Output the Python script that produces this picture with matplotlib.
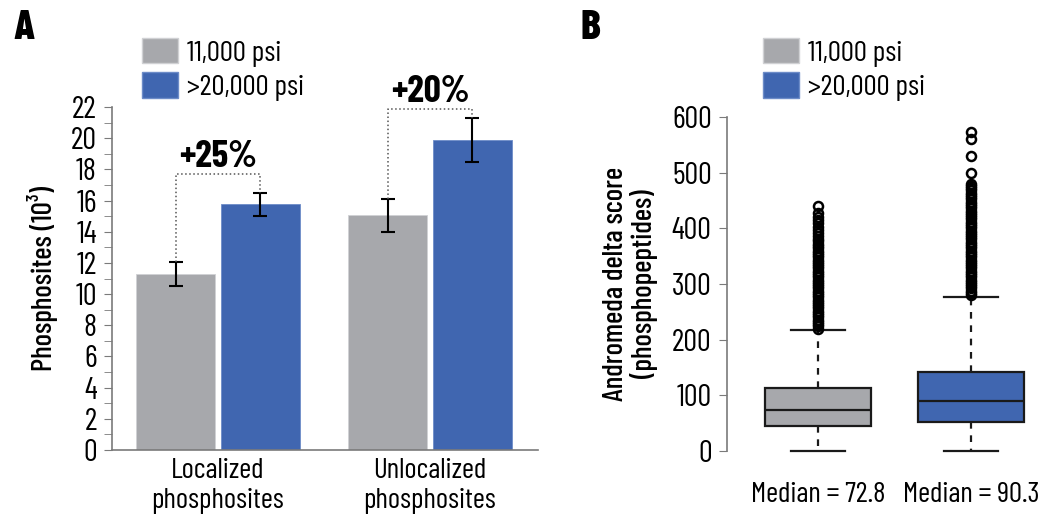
import numpy as np
import matplotlib
matplotlib.use('Agg')
import matplotlib.pyplot as plt
from matplotlib.patches import Patch

plt.rcParams['font.family'] = ['Barlow Condensed', 'Roboto Condensed', 'DejaVu Sans']
plt.rcParams['font.weight'] = 400
title_font = ['Barlow Condensed', 'Roboto Condensed', 'DejaVu Sans']

# Panel A data (10^3 phosphosites)
groups = ['Localized\nphosphosites', 'Unlocalized\nphosphosites']
low_psi = [11.3, 15.05]
low_err = [0.75, 1.05]
high_psi = [15.75, 19.9]
high_err = [0.75, 1.4]
gains = ['+25%', '+20%']
bracket_y = [17.7, 21.9]

# Panel B data (Andromeda delta score)
medians = [72.8, 90.3]
q1 = [45, 52]
q3 = [113, 142]
whis_lo = [0, 0]
whis_hi = [217, 277]
fliers_low = [220, 224, 228, 232, 236, 240, 244, 248, 252, 256, 260, 264,
              268, 272, 276, 280, 284, 288, 292, 296, 300, 304, 308, 312,
              316, 320, 324, 328, 332, 336, 340, 344, 348, 352, 356, 360,
              364, 368, 372, 377, 381, 386, 392, 397, 403, 410, 415, 420,
              427, 440]
fliers_high = [280, 284, 288, 292, 296, 300, 304, 308, 312, 316, 320, 324,
               328, 332, 336, 340, 344, 348, 352, 356, 360, 364, 368, 372,
               376, 380, 384, 388, 392, 396, 400, 404, 408, 412, 416, 420,
               424, 428, 432, 436, 440, 444, 448, 452, 456, 460, 464, 468,
               472, 476, 479, 499, 530, 560, 573]

series = ['11,000 psi', '>20,000 psi']
gray = '#a7a8ac'
blue = '#4066b0'
axis_col = '#7a7a7a'

fig = plt.figure(figsize=(10.38, 5.27), dpi=100)

# ---------------- Panel A ----------------
axA = fig.add_axes([112/1038, 1-450/527, (538-112)/1038, (450-107)/527])
x = np.arange(len(groups))
w = 0.373
off = 0.2
axA.bar(x - off, low_psi, w, color=gray, edgecolor='#d0d1d4', linewidth=0.6,
        yerr=low_err, error_kw=dict(ecolor='black', elinewidth=1.5, capsize=5, capthick=1.5))
axA.bar(x + off, high_psi, w, color=blue, edgecolor='#6d8cc8', linewidth=0.6,
        yerr=high_err, error_kw=dict(ecolor='black', elinewidth=1.5, capsize=5, capthick=1.5))

for i in range(len(groups)):
    top_l = low_psi[i] + low_err[i]
    top_h = high_psi[i] + high_err[i]
    axA.plot([x[i] - off, x[i] - off, x[i] + off, x[i] + off],
             [top_l, bracket_y[i], bracket_y[i], top_h],
             ls=':', color='#555555', lw=1.1, clip_on=False)
    axA.text(x[i], bracket_y[i] + 0.45, gains[i], ha='center', va='baseline',
             fontsize=27, fontweight=700, family=title_font, clip_on=False)

axA.set_xlim(-0.5, 1.51)
axA.set_ylim(0, 22)
axA.set_yticks(np.arange(0, 23, 2))
axA.set_yticks(np.arange(1, 22, 2), minor=True)
axA.set_xticks(x)
axA.set_xticklabels(groups, fontsize=21, linespacing=1.2)
axA.tick_params(axis='x', length=0, pad=6)
axA.tick_params(axis='y', which='both', length=6, color=axis_col, labelsize=22, pad=5)
axA.spines['top'].set_visible(False)
axA.spines['right'].set_visible(False)
for s in ['left', 'bottom']:
    axA.spines[s].set_color(axis_col)
    axA.spines[s].set_linewidth(1.2)
axA.set_ylabel('Phosphosites (10³)', fontsize=21, fontweight=500, labelpad=9)

axA.legend([Patch(facecolor=gray, edgecolor='#d0d1d4'), Patch(facecolor=blue, edgecolor='#6d8cc8')],
           series, loc='upper left', bbox_to_anchor=(142/1038, 1-38/527),
           bbox_transform=fig.transFigure, frameon=False, fontsize=21,
           handlelength=1.25, handleheight=0.95, handletextpad=0.3,
           labelspacing=0.2, borderpad=0, borderaxespad=0)

fig.text(14/1038, 1-10/527, 'A', fontsize=30, fontweight=800, family=title_font, va='top')

# ---------------- Panel B ----------------
axB = fig.add_axes([727/1038, 1-451/527, (1038-727)/1038, (451-117)/527])
stats = []
for i in range(2):
    stats.append(dict(med=medians[i], q1=q1[i], q3=q3[i], whislo=whis_lo[i],
                      whishi=whis_hi[i], fliers=[fliers_low, fliers_high][i]))
bp = axB.bxp(stats, positions=[1, 2], widths=0.693, patch_artist=True,
             boxprops=dict(linewidth=1.6, edgecolor='#1a1a1a'),
             medianprops=dict(color='#1a1a1a', linewidth=1.6),
             whiskerprops=dict(color='#1a1a1a', linewidth=1.6, linestyle=(0, (3, 3))),
             capprops=dict(color='#1a1a1a', linewidth=1.6),
             capwidths=0.35,
             flierprops=dict(marker='o', markersize=6.5, markerfacecolor='none',
                             markeredgecolor='black', markeredgewidth=1.8))
for patch, c in zip(bp['boxes'], [gray, blue]):
    patch.set_facecolor(c)
for art in bp['caps'] + bp['whiskers'] + bp['fliers']:
    art.set_clip_on(False)

axB.set_xlim(0.405, 2.44)
axB.set_ylim(0, 600)
axB.set_yticks(np.arange(0, 601, 100))
axB.set_xticks([1, 2])
axB.set_xticklabels([f'Median = {m}' for m in medians], fontsize=21)
axB.tick_params(axis='x', length=0, pad=22)
axB.tick_params(axis='y', length=6, color=axis_col, labelsize=22, pad=5)
for s in ['top', 'right', 'bottom']:
    axB.spines[s].set_visible(False)
axB.spines['left'].set_color(axis_col)
axB.spines['left'].set_linewidth(1.2)
axB.set_ylabel('Andromeda delta score\n(phosphopeptides)', fontsize=21, fontweight=500,
               labelpad=10, linespacing=1.05)

axB.legend([Patch(facecolor=gray, edgecolor='#d0d1d4'), Patch(facecolor=blue, edgecolor='#6d8cc8')],
           series, loc='upper left', bbox_to_anchor=(763/1038, 1-38/527),
           bbox_transform=fig.transFigure, frameon=False, fontsize=21,
           handlelength=1.25, handleheight=0.95, handletextpad=0.3,
           labelspacing=0.2, borderpad=0, borderaxespad=0)

fig.text(581/1038, 1-10/527, 'B', fontsize=30, fontweight=800, family=title_font, va='top')

fig.savefig('out.png', dpi=100)
